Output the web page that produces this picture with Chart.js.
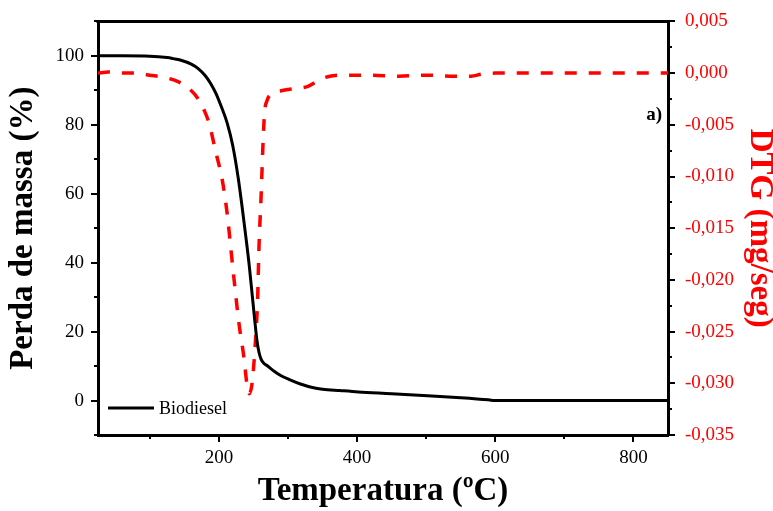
<!DOCTYPE html>
<html>
<head>
<meta charset="utf-8">
<script src="https://cdn.jsdelivr.net/npm/chart.js@4/dist/chart.umd.min.js"></script>
<style>
  html, body { margin: 0; padding: 0; background: #fff; }
  canvas { display: block; }
</style>
</head>
<body>
<canvas id="c" width="773" height="511"></canvas>
<script>
// ---- data ----
const tgaTemp = [25, 60, 100, 125, 134, 144, 160, 170, 180, 188, 196, 204, 212, 220, 228, 234, 239, 244, 248, 252, 255, 258, 261, 265, 270, 280, 290, 303, 318, 337, 350, 375, 402, 450, 502, 550, 590, 600, 700, 850];
const tgaMass = [100, 100, 99.9, 99.5, 99.2, 98.8, 97.6, 96.3, 94.3, 92, 89, 85, 80.5, 74, 64.5, 55.5, 47.5, 39, 31, 23, 17.5, 14, 12, 10.8, 10.1, 8.5, 7.2, 6.0, 4.8, 3.7, 3.3, 2.9, 2.5, 2.0, 1.4, 0.8, 0.2, 0, 0, 0];

const dtgTemp = [25, 40, 60, 80, 100, 120, 140, 155, 169, 180, 186, 195, 205, 212, 217, 222, 229, 236, 241, 244, 248, 253, 256, 258, 261, 264, 266, 270, 280, 290, 310, 328, 350, 377, 420, 460, 500, 540, 565, 580, 600, 700, 850];
const dtgValues = [0, 0.0001, 0, 0, -0.0002, -0.0004, -0.0008, -0.0014, -0.0024, -0.0038, -0.0049, -0.0075, -0.0104, -0.0136, -0.0168, -0.0200, -0.0242, -0.0274, -0.0303, -0.0310, -0.0300, -0.0258, -0.0219, -0.0168, -0.0120, -0.0065, -0.0039, -0.0026, -0.0019, -0.0017, -0.0015, -0.0013, -0.0005, -0.0002, -0.0002, -0.0003, -0.0002, -0.0003, -0.0003, -0.0001, 0, 0, 0];

const xMajorTicks = [200, 400, 600, 800];
const xMinorTicks = [100, 300, 500, 700];
const yLeftMajorTicks = [0, 20, 40, 60, 80, 100];
const yLeftMinorTicks = [-10, 10, 30, 50, 70, 90, 110];
const yRightMajorTicks = [0.005, 0, -0.005, -0.010, -0.015, -0.020, -0.025, -0.030, -0.035];
const yRightMinorTicks = [0.0025, -0.0025, -0.0075, -0.0125, -0.0175, -0.0225, -0.0275, -0.0325];

const seriesLabel = 'Biodiesel';
const panelLabel = 'a)';
const xTitle = 'Temperatura (ºC)';
const yLeftTitle = 'Perda de massa (%)';
const yRightTitle = 'DTG (mg/seg)';

const FONT = "'Liberation Serif', 'Times New Roman', serif";
Chart.defaults.font.family = FONT;
Chart.defaults.color = '#000';

const RED = '#ff0000';

const extrasPlugin = {
  id: 'extras',
  afterDraw(chart) {
    const ctx = chart.ctx;
    const a = chart.chartArea;
    const sx = chart.scales.x, sy = chart.scales.y, sy1 = chart.scales.y1;
    ctx.save();
    ctx.strokeStyle = '#000';
    // top frame line
    ctx.lineWidth = 3;
    ctx.beginPath();
    ctx.moveTo(a.left - 1.5, a.top);
    ctx.lineTo(a.right + 1.5, a.top);
    ctx.stroke();
    // minor ticks
    ctx.lineWidth = 2;
    ctx.beginPath();
    xMinorTicks.forEach(v => {
      const px = Math.round(sx.getPixelForValue(v));
      ctx.moveTo(px, a.bottom); ctx.lineTo(px, a.bottom + 4);
    });
    yLeftMinorTicks.forEach(v => {
      const py = Math.round(sy.getPixelForValue(v));
      ctx.moveTo(a.left, py); ctx.lineTo(a.left - 4, py);
    });
    yRightMinorTicks.forEach(v => {
      const py = Math.round(sy1.getPixelForValue(v));
      ctx.moveTo(a.right, py); ctx.lineTo(a.right + 4, py);
    });
    ctx.stroke();
    // legend
    const ly = a.bottom - 27;
    ctx.lineWidth = 3;
    ctx.beginPath();
    ctx.moveTo(a.left + 10, ly);
    ctx.lineTo(a.left + 56, ly);
    ctx.stroke();
    ctx.fillStyle = '#000';
    ctx.font = '18px ' + FONT;
    ctx.textAlign = 'left';
    ctx.textBaseline = 'alphabetic';
    ctx.fillText(seriesLabel, a.left + 61, ly + 6);
    // panel label
    ctx.font = 'bold 19px ' + FONT;
    ctx.textAlign = 'right';
    ctx.fillText(panelLabel, a.right - 6, a.top + 99);
    ctx.restore();
  }
};

new Chart(document.getElementById('c'), {
  type: 'line',
  data: {
    datasets: [
      {
        label: seriesLabel,
        data: tgaTemp.map((t, i) => ({ x: t, y: tgaMass[i] })),
        yAxisID: 'y',
        borderColor: '#000',
        borderWidth: 3,
        pointRadius: 0,
        fill: false,
        cubicInterpolationMode: 'monotone'
      },
      {
        label: 'DTG',
        data: dtgTemp.map((t, i) => ({ x: t, y: dtgValues[i] })),
        yAxisID: 'y1',
        borderColor: RED,
        borderWidth: 3.5,
        borderDash: [12, 12],
        pointRadius: 0,
        fill: false,
        cubicInterpolationMode: 'monotone'
      }
    ]
  },
  options: {
    responsive: false,
    animation: false,
    events: [],
    layout: { padding: { top: 20, left: 0, right: 0, bottom: 0 } },
    plugins: { legend: { display: false }, tooltip: { enabled: false } },
    scales: {
      x: {
        type: 'linear',
        position: 'bottom',
        min: 25, max: 850,
        afterBuildTicks: s => { s.ticks = xMajorTicks.map(v => ({ value: v })); },
        afterFit: s => { s.height = 76; },
        grid: { display: true, drawOnChartArea: false, drawTicks: true, tickLength: 7, lineWidth: 2, color: '#000' },
        border: { display: true, width: 3, color: '#000' },
        ticks: { font: { size: 19 }, color: '#000', padding: 5, maxRotation: 0, callback: v => String(v) },
        title: { display: true, text: xTitle, color: '#000', font: { size: 33, weight: 'bold', lineHeight: 1 }, padding: { bottom: 3.5, top: 0 } }
      },
      y: {
        type: 'linear',
        position: 'left',
        min: -10, max: 110,
        afterBuildTicks: s => { s.ticks = yLeftMajorTicks.map(v => ({ value: v })); },
        afterFit: s => { s.width = 98; },
        grid: { display: true, drawOnChartArea: false, drawTicks: true, tickLength: 7, lineWidth: 2, color: '#000' },
        border: { display: true, width: 3, color: '#000' },
        ticks: { font: { size: 19 }, color: '#000', padding: 7, callback: v => String(v) },
        title: { display: true, text: yLeftTitle, color: '#000', font: { size: 33, weight: 'bold', lineHeight: 1 }, padding: { top: 7, bottom: 0 } }
      },
      y1: {
        type: 'linear',
        position: 'right',
        min: -0.035, max: 0.005,
        afterBuildTicks: s => { s.ticks = yRightMajorTicks.map(v => ({ value: v })); },
        afterFit: s => { s.width = 105; },
        grid: { display: true, drawOnChartArea: false, drawTicks: true, tickLength: 7, lineWidth: 2, color: '#000' },
        border: { display: true, width: 3, color: '#000' },
        ticks: { font: { size: 19 }, color: RED, padding: 10, callback: v => (Math.abs(v) < 1e-9 ? 0 : v).toFixed(3).replace('.', ',') },
        title: { display: true, text: yRightTitle, color: RED, font: { size: 33, weight: 'bold', lineHeight: 0.8 }, padding: { top: 0, bottom: 0 } }
      }
    }
  },
  plugins: [extrasPlugin]
});
</script>
</body>
</html>
